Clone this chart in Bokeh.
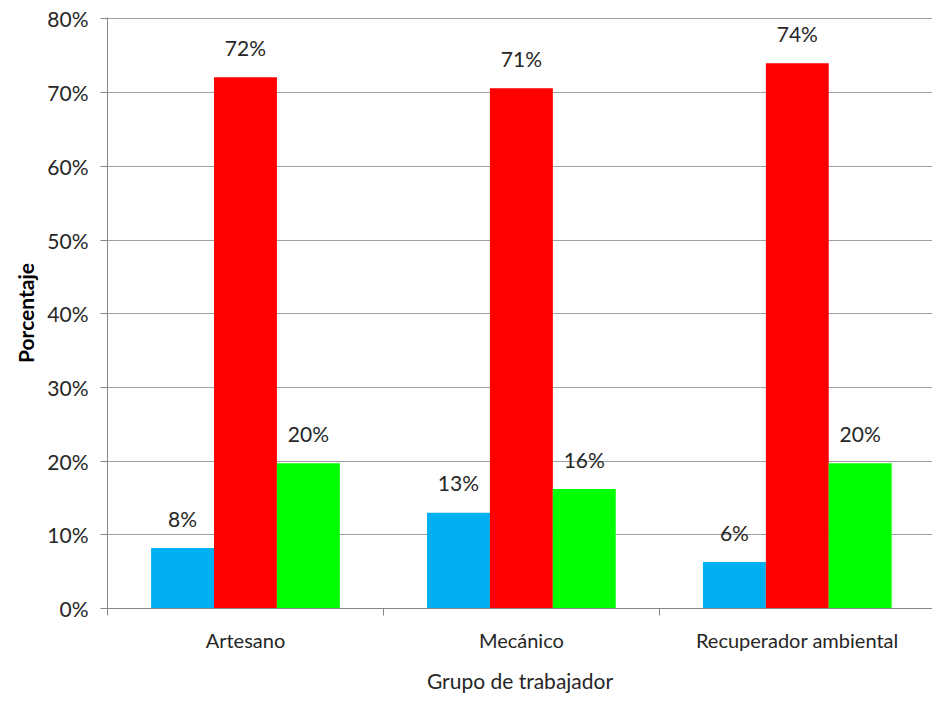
import numpy as np
from bokeh.plotting import figure
from bokeh.models import ColumnDataSource, Range1d, FixedTicker, NumeralTickFormatter
from bokeh.core.properties import value
from bokeh.embed import file_html
from bokeh.resources import INLINE

categories = ["Artesano", "Mecánico", "Recuperador ambiental"]
serie_azul = [8.2, 13.0, 6.3]
serie_roja = [72.1, 70.6, 74.0]
serie_verde = [19.7, 16.2, 19.7]
y_ticks = [0, 10, 20, 30, 40, 50, 60, 70, 80]

FONT = "Lato"
TXT = "#262626"

p = figure(width=932, height=696, output_backend="svg", toolbar_location=None,
           x_range=Range1d(0, 2.99), y_range=Range1d(0, 80.2),
           min_border_left=107, min_border_right=0, min_border_top=17, min_border_bottom=88)
p.outline_line_color = None
p.background_fill_color = "white"
p.border_fill_color = "white"

bw = 0.228
centers = np.arange(len(categories)) + 0.5
series = [(serie_azul, "#00B0F0", -bw), (serie_roja, "#FF0000", 0.0), (serie_verde, "#00FF00", bw)]
for vals, color, off in series:
    src = ColumnDataSource(dict(x=centers + off, top=vals,
                                lab=["%d%%" % round(v) for v in vals]))
    p.vbar(x="x", top="top", bottom=0, width=bw, source=src,
           fill_color=color, line_color=None)
    p.text(x="x", y="top", text="lab", source=src, text_align="center",
           text_baseline="middle", y_offset=-30, text_font=value(FONT),
           text_font_size="21px", text_color=TXT)

# y axis
ya = p.yaxis[0]
ya.ticker = FixedTicker(ticks=y_ticks)
ya.formatter = NumeralTickFormatter(format="0")
ya.major_label_overrides = {t: "%d%%" % t for t in y_ticks}
ya.axis_line_color = "#868686"
ya.major_tick_line_color = "#868686"
ya.major_tick_out = 7
ya.major_tick_in = 0
ya.minor_tick_line_color = None
ya.major_label_text_font = FONT
ya.major_label_text_font_size = "21px"
ya.major_label_text_color = TXT
ya.major_label_standoff = 12
ya.axis_label = "Porcentaje"
ya.axis_label_text_font = FONT
ya.axis_label_text_font_style = "bold"
ya.axis_label_text_font_size = "21px"
ya.axis_label_text_color = "#000000"
ya.axis_label_standoff = 6

# x axis
xa = p.xaxis[0]
xa.ticker = FixedTicker(ticks=list(centers), minor_ticks=list(np.arange(len(categories) + 1)))
xa.major_label_overrides = {float(c): categories[i] for i, c in enumerate(centers)}
xa.axis_line_color = "#868686"
xa.major_tick_line_color = None
xa.major_tick_out = 0
xa.major_tick_in = 0
xa.minor_tick_line_color = "#868686"
xa.minor_tick_out = 7
xa.minor_tick_in = 0
xa.major_label_text_font = FONT
xa.major_label_text_font_size = "20px"
xa.major_label_text_color = TXT
xa.major_label_standoff = 12
xa.axis_label = "Grupo de trabajador"
xa.axis_label_text_font = FONT
xa.axis_label_text_font_style = "normal"
xa.axis_label_text_font_size = "21px"
xa.axis_label_text_color = TXT
xa.axis_label_standoff = 13

p.xgrid.grid_line_color = None
p.ygrid.ticker = FixedTicker(ticks=y_ticks[1:])
p.ygrid.grid_line_color = "#A0A0A0"
p.ygrid.grid_line_width = 1.2

open("out.html", "w").write(file_html(p, INLINE))
